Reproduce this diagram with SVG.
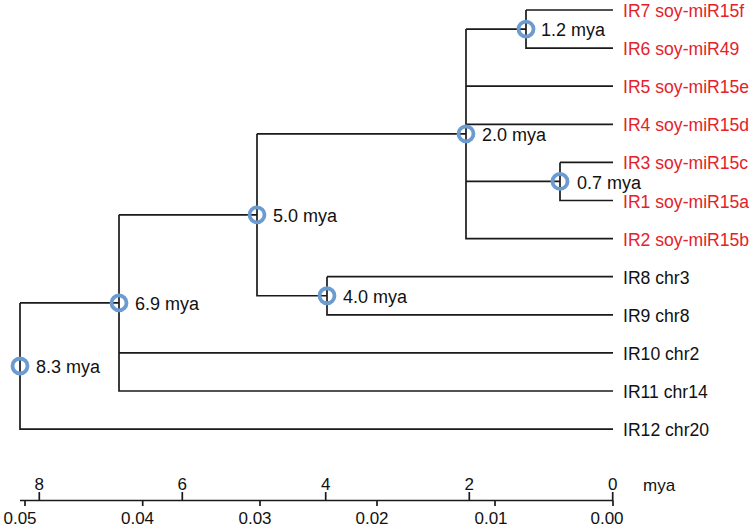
<svg xmlns="http://www.w3.org/2000/svg" width="755" height="530" viewBox="0 0 755 530">
<style>
.e{stroke:#1a1a1a;stroke-width:1.7;fill:none}
.n{fill:none;stroke:#6b9bd1;stroke-width:3.8}
text{font-family:"Liberation Sans",Arial,sans-serif;font-size:18px;fill:#111}
.l{font-size:17.6px}
.r{fill:#e4222a}
.m{text-anchor:middle}
.a{font-size:17px}
</style>
<rect width="755" height="530" fill="#fff"/>
<g id="connectors">
<path class="e" d="M20,302.9V429.1H613 M20,302.9H119 M119,214.8V391H613 M119,352.9H613 M119,214.8H257 M257,133.8V295.75H327 M257,133.8H466 M327,276.7V314.8H613 M327,276.7H613 M466,29.05V238.6H613 M466,29.05H526 M466,86.2H613 M466,124.3H613 M466,181.45H560 M526,10V48.1H613 M526,10H613 M560,162.4V200.5H613 M560,162.4H613"/>
</g>
<g id="node-8.3"><circle class="n" cx="20" cy="366" r="7.5"/><text x="36" y="373">8.3 mya</text></g>
<g id="node-6.9"><circle class="n" cx="119" cy="302.9" r="7.5"/><text x="135" y="310">6.9 mya</text></g>
<g id="node-5.0"><circle class="n" cx="257" cy="214.8" r="7.5"/><text x="273" y="222">5.0 mya</text></g>
<g id="node-4.0"><circle class="n" cx="327" cy="295.75" r="7.5"/><text x="343" y="303">4.0 mya</text></g>
<g id="node-2.0"><circle class="n" cx="466" cy="133.8" r="7.5"/><text x="482" y="141">2.0 mya</text></g>
<g id="node-1.2"><circle class="n" cx="526" cy="29.05" r="7.5"/><text x="541" y="36">1.2 mya</text></g>
<g id="node-0.7"><circle class="n" cx="560" cy="181.45" r="7.5"/><text x="577" y="188.5">0.7 mya</text></g>
<g id="leaf-IR7"><text class="l r" x="623" y="17">IR7 soy-miR15f</text></g>
<g id="leaf-IR6"><text class="l r" x="623" y="55.1">IR6 soy-miR49</text></g>
<g id="leaf-IR5"><text class="l r" x="623" y="93.2">IR5 soy-miR15e</text></g>
<g id="leaf-IR4"><text class="l r" x="623" y="131.3">IR4 soy-miR15d</text></g>
<g id="leaf-IR3"><text class="l r" x="623" y="169.4">IR3 soy-miR15c</text></g>
<g id="leaf-IR1"><text class="l r" x="623" y="207.5">IR1 soy-miR15a</text></g>
<g id="leaf-IR2"><text class="l r" x="623" y="245.6">IR2 soy-miR15b</text></g>
<g id="leaf-IR8"><text class="l" x="623" y="283.7">IR8 chr3</text></g>
<g id="leaf-IR9"><text class="l" x="623" y="321.8">IR9 chr8</text></g>
<g id="leaf-IR10"><text class="l" x="623" y="359.9">IR10 chr2</text></g>
<g id="leaf-IR11"><text class="l" x="623" y="398">IR11 chr14</text></g>
<g id="leaf-IR12"><text class="l" x="623" y="436.1">IR12 chr20</text></g>
<g id="axis">
<path class="e" d="M20,500.5H613 M25,500.5V506 M142.7,500.5V506 M260,500.5V506 M377,500.5V506 M495,500.5V506 M613,500.5V506 M39.3,500.5V492 M182.3,500.5V492 M325.7,500.5V492 M469.3,500.5V492 M612.7,500.5V492"/>
<text class="m a" x="39.3" y="490">8</text>
<text class="m a" x="182.3" y="490">6</text>
<text class="m a" x="325.7" y="490">4</text>
<text class="m a" x="469.3" y="490">2</text>
<text class="m a" x="612.7" y="490">0</text>
<text class="a" x="643" y="491">mya</text>
<text class="m a" x="20" y="524">0.05</text>
<text class="m a" x="137.5" y="524">0.04</text>
<text class="m a" x="255" y="524">0.03</text>
<text class="m a" x="372" y="524">0.02</text>
<text class="m a" x="491" y="524">0.01</text>
<text class="m a" x="607" y="524">0.00</text>
</g>
</svg>
